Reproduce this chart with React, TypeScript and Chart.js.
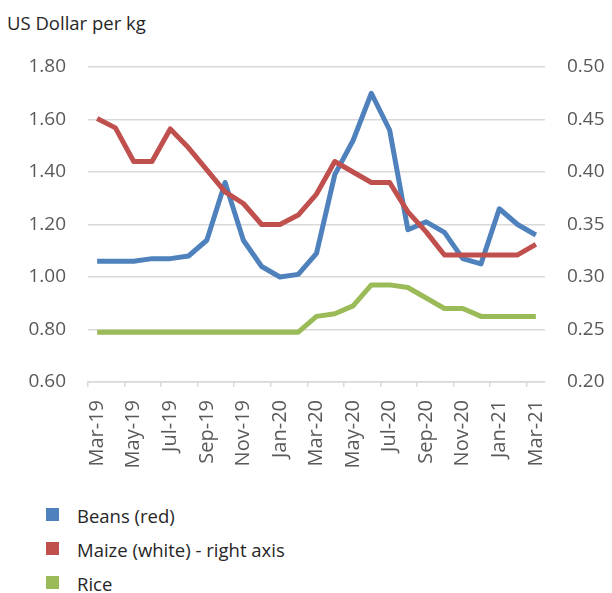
import React, { useEffect, useRef } from "react";
import { Chart, registerables } from "chart.js";

Chart.register(...registerables);

const months: string[] = [
  "Mar-19", "Apr-19", "May-19", "Jun-19", "Jul-19", "Aug-19", "Sep-19", "Oct-19", "Nov-19", "Dec-19",
  "Jan-20", "Feb-20", "Mar-20", "Apr-20", "May-20", "Jun-20", "Jul-20", "Aug-20", "Sep-20", "Oct-20",
  "Nov-20", "Dec-20", "Jan-21", "Feb-21", "Mar-21",
];

const beans: number[] = [
  1.06, 1.06, 1.06, 1.07, 1.07, 1.08, 1.14, 1.36, 1.14, 1.04,
  1.0, 1.01, 1.09, 1.39, 1.52, 1.7, 1.56, 1.18, 1.21, 1.17,
  1.07, 1.05, 1.26, 1.2, 1.16,
];

const maize: number[] = [
  0.451, 0.442, 0.41, 0.41, 0.441, 0.423, 0.402, 0.381, 0.37, 0.35,
  0.35, 0.359, 0.379, 0.41, 0.4, 0.39, 0.39, 0.362, 0.343, 0.321,
  0.321, 0.321, 0.321, 0.321, 0.331,
];

const rice: number[] = [
  0.79, 0.79, 0.79, 0.79, 0.79, 0.79, 0.79, 0.79, 0.79, 0.79,
  0.79, 0.79, 0.85, 0.86, 0.89, 0.97, 0.97, 0.96, 0.92, 0.88,
  0.88, 0.85, 0.85, 0.85, 0.85,
];

const seriesNames: string[] = ["Beans (red)", "Maize (white) - right axis", "Rice"];
const seriesColors: string[] = ["#4F81BD", "#C0504D", "#9BBB59"];

const FONT = "'Open Sans', 'Noto Sans', sans-serif";

export default function App() {
  const canvasRef = useRef<HTMLCanvasElement | null>(null);

  useEffect(() => {
    if (!canvasRef.current) return;
    const chart = new Chart(canvasRef.current, {
      type: "line",
      data: {
        labels: months,
        datasets: [
          {
            label: seriesNames[0],
            data: beans,
            yAxisID: "y",
            borderColor: seriesColors[0],
            backgroundColor: seriesColors[0],
            borderWidth: 5,
            pointRadius: 0,
            tension: 0,
            borderJoinStyle: "round",
            order: 2,
          },
          {
            label: seriesNames[1],
            data: maize,
            yAxisID: "y1",
            borderColor: seriesColors[1],
            backgroundColor: seriesColors[1],
            borderWidth: 5,
            pointRadius: 0,
            tension: 0,
            borderJoinStyle: "round",
            order: 1,
          },
          {
            label: seriesNames[2],
            data: rice,
            yAxisID: "y",
            borderColor: seriesColors[2],
            backgroundColor: seriesColors[2],
            borderWidth: 5,
            pointRadius: 0,
            tension: 0,
            borderJoinStyle: "round",
            order: 3,
          },
        ],
      },
      options: {
        animation: false,
        responsive: false,
        maintainAspectRatio: false,
        layout: { padding: { top: 67, left: 0, right: 0, bottom: 0 } },
        plugins: {
          legend: { display: false },
          tooltip: { enabled: false },
          title: { display: false },
        },
        scales: {
          x: {
            type: "category",
            offset: true,
            grid: {
              display: true,
              offset: true,
              drawOnChartArea: false,
              drawTicks: true,
              tickLength: 5,
              lineWidth: 1.5,
              color: (ctx: any) => (ctx.index % 2 === 0 ? "#d9d9d9" : "rgba(0,0,0,0)"),
            },
            border: { display: true, color: "#d9d9d9", width: 1.5 },
            ticks: {
              autoSkip: false,
              maxRotation: 90,
              minRotation: 90,
              padding: 13,
              color: "#595959",
              font: { family: FONT, size: 20 },
              callback: (_v: any, i: number) => (i % 2 === 0 ? months[i] : ""),
            },
            afterFit: (scale: any) => {
              scale.height = 98;
            },
          },
          y: {
            type: "linear",
            position: "left",
            min: 0.6,
            max: 1.8,
            ticks: {
              stepSize: 0.2,
              padding: 22,
              color: "#595959",
              font: { family: FONT, size: 19 },
              callback: (v: any) => Number(v).toFixed(2),
            },
            grid: { color: "#d9d9d9", lineWidth: 1.5, drawTicks: false },
            border: { display: false },
            afterFit: (scale: any) => {
              scale.width = 88;
            },
          },
          y1: {
            type: "linear",
            position: "right",
            min: 0.2,
            max: 0.5,
            ticks: {
              stepSize: 0.05,
              padding: 22,
              color: "#595959",
              font: { family: FONT, size: 19 },
              callback: (v: any) => Number(v).toFixed(2),
            },
            grid: { drawOnChartArea: false, drawTicks: false },
            border: { display: false },
            afterFit: (scale: any) => {
              scale.width = 67;
            },
          },
        },
      },
    });
    return () => chart.destroy();
  }, []);

  const legendRowBaselines = [523, 557, 591];

  return (
    <div
      style={{
        position: "fixed",
        left: 0,
        top: 0,
        width: 612,
        height: 593,
        background: "#ffffff",
        overflow: "hidden",
        fontFamily: FONT,
      }}
    >
      <div
        style={{
          position: "absolute",
          left: 7,
          top: 14,
          fontSize: 18.5,
          lineHeight: "18px",
          color: "#262626",
          whiteSpace: "nowrap",
        }}
      >
        US Dollar per kg
      </div>
      <canvas
        ref={canvasRef}
        width={612}
        height={480}
        style={{ position: "absolute", left: 0, top: 0, width: 612, height: 480 }}
      />
      {seriesNames.map((name, i) => (
        <React.Fragment key={name}>
          <div
            style={{
              position: "absolute",
              left: 46,
              top: legendRowBaselines[i] - 15,
              width: 13,
              height: 13,
              background: seriesColors[i],
            }}
          />
          <div
            style={{
              position: "absolute",
              left: 77,
              top: legendRowBaselines[i] - 16,
              fontSize: 18.5,
              lineHeight: "18px",
              color: "#262626",
              whiteSpace: "nowrap",
            }}
          >
            {name}
          </div>
        </React.Fragment>
      ))}
    </div>
  );
}
